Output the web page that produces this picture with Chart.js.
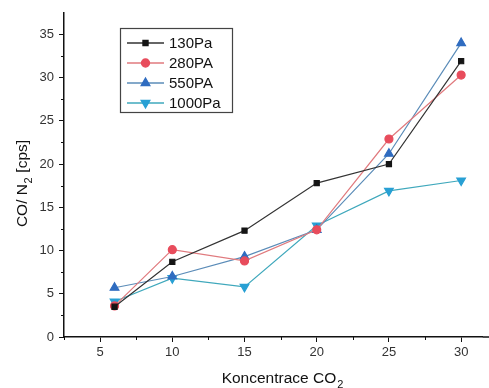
<!DOCTYPE html>
<html>
<head>
<meta charset="utf-8">
<script src="https://cdn.jsdelivr.net/npm/chart.js@4"></script>
<style>
  html, body { margin: 0; padding: 0; background: #fff; }
  #wrap { width: 489px; height: 388px; }
</style>
</head>
<body>
<div id="wrap"><canvas id="c" width="489" height="388"></canvas></div>
<script>
// CO2 concentration (x) and CO/N2 signal for each pressure
const koncentrace = [6, 10, 15, 20, 25, 30];
const p130 = [3.5, 8.7, 12.3, 17.8, 20.0, 31.9];
const p280 = [3.6, 10.1, 8.8, 12.4, 22.9, 30.3];
const p550 = [5.7, 7.0, 9.3, 12.4, 21.2, 34.0];
const p1000 = [4.1, 6.8, 5.8, 12.9, 16.9, 18.1];

const xTicks = [5, 10, 15, 20, 25, 30];
const xMinorTicks = [2.5, 7.5, 12.5, 17.5, 22.5, 27.5];
const yTicks = [0, 5, 10, 15, 20, 25, 30, 35];
const yMinorTicks = [2.5, 7.5, 12.5, 17.5, 22.5, 27.5, 32.5];

const seriesNames = ['130Pa', '280PA', '550PA', '1000Pa'];

const pts = vals => koncentrace.map((x, i) => ({ x: x, y: vals[i] }));

const styles = [
  { line: '#333333', fill: '#151515', shape: 'rect', r: 3.6 },
  { line: '#e07a7e', fill: '#e84c5c', shape: 'circle', r: 4 },
  { line: '#5b8cb8', fill: '#2f6cc0', shape: 'triangle', r: 5 },
  { line: '#3fa8bc', fill: '#28a0d4', shape: 'triangle', r: 5, rot: 180 }
];

const datasets = [p130, p280, p550, p1000].map((vals, i) => ({
  label: seriesNames[i],
  data: pts(vals),
  borderColor: styles[i].line,
  backgroundColor: styles[i].fill,
  pointBackgroundColor: styles[i].fill,
  pointBorderColor: styles[i].fill,
  pointStyle: styles[i].shape,
  pointRadius: styles[i].r,
  pointRotation: styles[i].rot || 0,
  borderWidth: 1.2,
  tension: 0
}));

const FONT = '"Liberation Sans", Arial, sans-serif';

// Minor tick marks, axis titles with subscripts, and the boxed legend
const extras = {
  id: 'extras',
  afterDraw(chart) {
    const ctx = chart.ctx;
    const xs = chart.scales.x, ys = chart.scales.y;
    const area = chart.chartArea;
    ctx.save();
    ctx.strokeStyle = '#111';
    ctx.lineWidth = 1.5;
    // x axis line runs on to the right edge
    ctx.beginPath(); ctx.moveTo(area.right, area.bottom); ctx.lineTo(chart.width, area.bottom); ctx.stroke();
    ctx.lineWidth = 1;
    xMinorTicks.forEach(v => {
      const px = Math.round(xs.getPixelForValue(v)) + 0.5;
      ctx.beginPath(); ctx.moveTo(px, area.bottom); ctx.lineTo(px, area.bottom + 3); ctx.stroke();
    });
    yMinorTicks.forEach(v => {
      const py = Math.round(ys.getPixelForValue(v)) + 0.5;
      ctx.beginPath(); ctx.moveTo(area.left, py); ctx.lineTo(area.left - 3, py); ctx.stroke();
    });

    const big = '15.5px ' + FONT, sub = '11px ' + FONT;

    // x axis title
    ctx.fillStyle = '#111';
    ctx.textBaseline = 'alphabetic';
    ctx.font = big;
    const xt = 'Koncentrace CO';
    const w1 = ctx.measureText(xt).width;
    ctx.font = sub;
    const w2 = ctx.measureText('2').width;
    const cx = 282;
    let sx = cx - (w1 + w2) / 2;
    ctx.font = big;
    ctx.textAlign = 'left';
    ctx.fillText(xt, sx, 383);
    ctx.font = sub;
    ctx.fillText('2', sx + w1 + 1, 388);

    // y axis title, rotated
    ctx.save();
    ctx.translate(27, 184);
    ctx.rotate(-Math.PI / 2);
    const a = 'CO/ N', b = ' [cps]';
    ctx.font = big;
    const wa = ctx.measureText(a).width, wb = ctx.measureText(b).width;
    ctx.font = sub;
    const ws = ctx.measureText('2').width;
    let tx = -(wa + ws + wb) / 2;
    ctx.font = big;
    ctx.fillText(a, tx, 0);
    ctx.font = sub;
    ctx.fillText('2', tx + wa + 0.5, 5);
    ctx.font = big;
    ctx.fillText(b, tx + wa + ws + 1, 0);
    ctx.restore();

    // legend box
    const lx = 120.5, ly = 28.5, lw = 112, lh = 84;
    ctx.fillStyle = '#fff';
    ctx.fillRect(lx, ly, lw, lh);
    ctx.strokeStyle = '#444';
    ctx.lineWidth = 1.2;
    ctx.strokeRect(lx, ly, lw, lh);
    const rows = [43, 63, 83, 103];
    chart.data.datasets.forEach((ds, i) => {
      const y = rows[i];
      ctx.strokeStyle = ds.borderColor;
      ctx.lineWidth = 1.3;
      ctx.beginPath(); ctx.moveTo(127, y); ctx.lineTo(164, y); ctx.stroke();
      ctx.fillStyle = ds.pointBackgroundColor;
      ctx.strokeStyle = ds.pointBorderColor;
      Chart.helpers.drawPoint(ctx, {
        pointStyle: ds.pointStyle,
        radius: ds.pointRadius,
        rotation: ds.pointRotation,
        borderWidth: 1
      }, 145.5, y);
      ctx.fillStyle = '#111';
      ctx.font = '15px ' + FONT;
      ctx.textAlign = 'left';
      ctx.textBaseline = 'middle';
      ctx.fillText(ds.label, 169, y + 1);
    });
    ctx.restore();
  }
};

new Chart(document.getElementById('c'), {
  type: 'line',
  data: { datasets: datasets },
  options: {
    responsive: false,
    animation: false,
    layout: { padding: { left: 0, top: 10, right: 0, bottom: 0 } },
    plugins: { legend: { display: false }, tooltip: { enabled: false } },
    scales: {
      x: {
        type: 'linear',
        min: 2.5,
        max: 31.5,
        afterBuildTicks: s => { s.ticks = xTicks.map(v => ({ value: v })); },
        afterFit: s => { s.height = 51; },
        grid: { display: true, drawOnChartArea: false, drawTicks: true, tickLength: 5, color: '#111', lineWidth: 1 },
        border: { display: true, color: '#111', width: 1.5 },
        ticks: { color: '#333', font: { family: FONT, size: 13 }, padding: 3, maxRotation: 0 }
      },
      y: {
        type: 'linear',
        min: 0,
        max: 37.5,
        afterBuildTicks: s => { s.ticks = yTicks.map(v => ({ value: v })); },
        afterFit: s => { s.width = 64; },
        grid: { display: true, drawOnChartArea: false, drawTicks: true, tickLength: 5, color: '#111', lineWidth: 1 },
        border: { display: true, color: '#111', width: 1.5 },
        ticks: { color: '#333', font: { family: FONT, size: 13 }, padding: 5 }
      }
    }
  },
  plugins: [extras]
});
</script>
</body>
</html>
